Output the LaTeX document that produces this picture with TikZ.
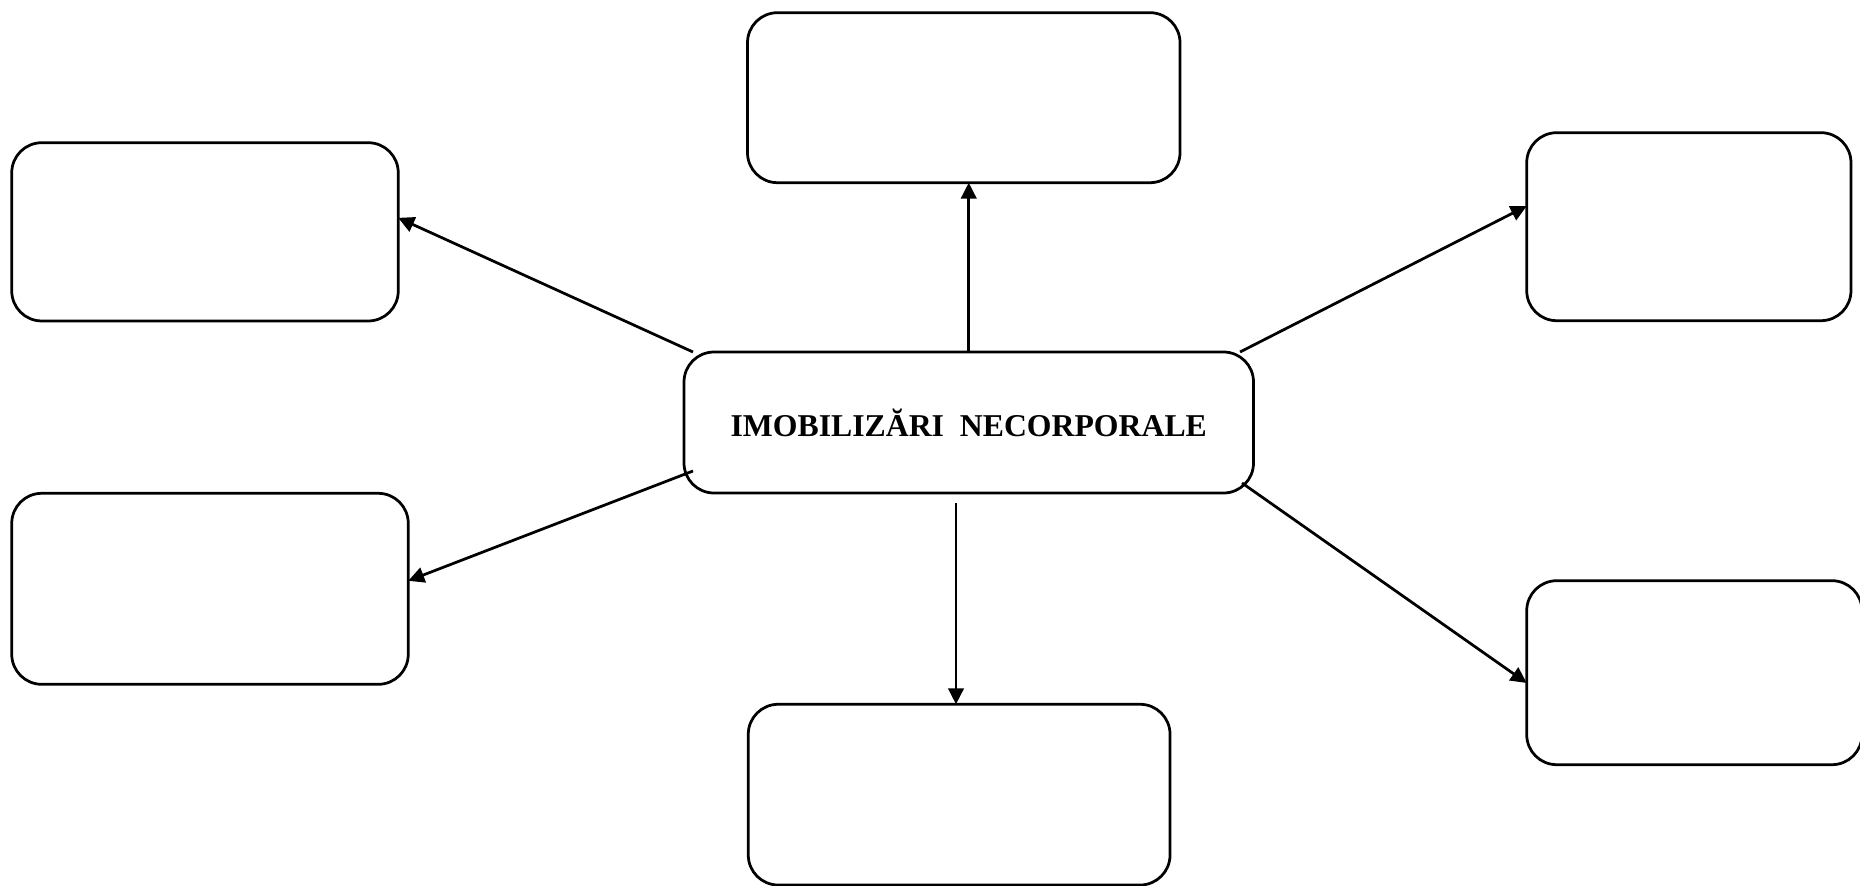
\documentclass[tikz,border=0pt]{standalone}
\usepackage{fontspec}
\setmainfont{Liberation Serif}
\usetikzlibrary{arrows.meta,calc}
\begin{document}
\begin{tikzpicture}[x=0.4pt,y=-0.4pt,
  box/.style={draw=black,line width=1.1pt,rounded corners=12pt,
    rectangle,inner sep=0pt,outer sep=0pt,fill=white},
  link/.style={draw=black,line width=1.1pt,-{Triangle[length=6.4pt,width=6.2pt]}}]
  \useasboundingbox (0,0) rectangle (1860,886);
  % central node
  \node[box,minimum width=227.8pt,minimum height=56.4pt,
        font=\bfseries\fontsize{12.7}{15}\selectfont] (c) at (968.75,422.5)
        {IMOBILIZĂRI\ \ NECORPORALE};
  % surrounding empty boxes
  \node[box,minimum width=173pt,minimum height=68pt]     (tp) at (963.75,97.7) {};
  \node[box,minimum width=154.6pt,minimum height=71.3pt] (lt) at (205,231.85) {};
  \node[box,minimum width=129.7pt,minimum height=75.2pt] (rt) at (1688.85,226.7) {};
  \node[box,minimum width=158.6pt,minimum height=76.4pt] (lb) at (210,588.8) {};
  \node[box,minimum width=168.7pt,minimum height=72.3pt] (bt) at (959.15,794.65) {};
  \node[box,minimum width=134.1pt,minimum height=73.6pt] (rb) at (1694.35,672.7) {};
  % connectors
  \draw[link] (c.north) -- (c.north |- tp.south);
  \draw[link] ($(c.north west)+(9,0)$) -- ($(lt.east)+(0,-14)$);
  \draw[link] ($(c.north east)+(-13.5,0)$) -- ($(rt.west)+(0,-20.7)$);
  \draw[link] ($(c.south west)+(9,-22)$) -- ($(lb.east)+(0,-8)$);
  \coordinate (cb) at ($(c.south)+(-12.75,10)$);
  \draw[link] (cb) -- (cb |- bt.north);
  \draw[link] ($(c.south east)+(-11.5,-10)$) -- ($(rb.west)+(0,10.3)$);
\end{tikzpicture}
\end{document}
